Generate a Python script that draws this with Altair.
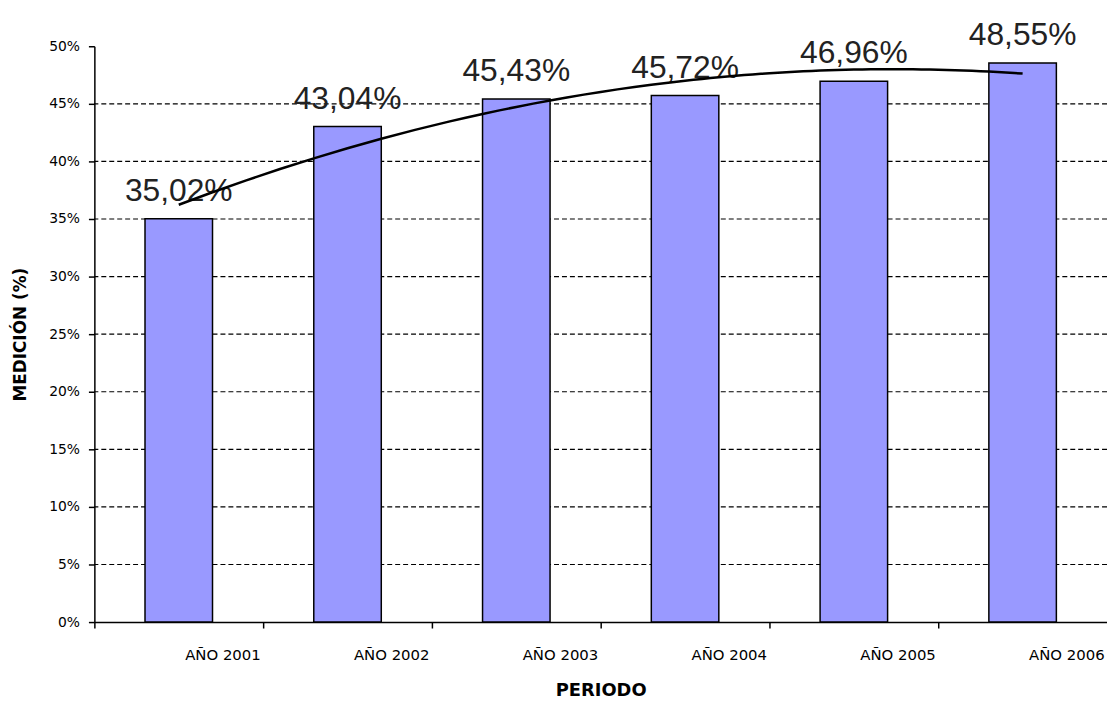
import altair as alt
import pandas as pd

categories = ["AÑO 2001", "AÑO 2002", "AÑO 2003", "AÑO 2004", "AÑO 2005", "AÑO 2006"]
values = [35.02, 43.04, 45.43, 45.72, 46.96, 48.55]
y_ticks = [0, 5, 10, 15, 20, 25, 30, 35, 40, 45, 50]
grid_lines = [5, 10, 15, 20, 25, 30, 35, 40, 45]

df = pd.DataFrame({"cat": categories, "val": values, "idx": list(range(len(categories)))})
grid_df = pd.DataFrame({"g": grid_lines})

base = alt.Chart(df)

x_band = alt.X(
    "cat:N",
    sort=categories,
    scale=alt.Scale(paddingInner=0.6, paddingOuter=0.3),
    title="PERIODO",
    axis=alt.Axis(
        labelAngle=0,
        labelFont="DejaVu Sans",
        labelFontSize=15,
        labelColor="#000",
        labelPadding=20,
        labelOffset=129,
        tickOffset=-85,
        bandPosition=0.5,
        tickSize=6,
        tickColor="#000",
        tickWidth=1.5,
        domainColor="#000",
        domainWidth=1.5,
        grid=False,
        titleFont="DejaVu Sans",
        titleFontSize=18,
        titleFontWeight="bold",
        titleColor="#000",
        titleY=60,
        titleBaseline="top",
    ),
)

y_axis = alt.Axis(
    values=y_ticks,
    labelExpr="datum.value + '%'",
    labelFont="DejaVu Sans",
    labelFontSize=14,
    labelColor="#000",
    labelPadding=9,
    tickSize=6,
    tickColor="#000",
    tickWidth=1.5,
    domainColor="#000",
    domainWidth=1.5,
    grid=False,
    titleFont="DejaVu Sans",
    titleFontSize=17,
    titleFontWeight="bold",
    titleColor="#000",
    titleAngle=-90,
    titleX=-74,
    titleY=290,
    titleAlign="center",
    titleBaseline="middle",
)

y_scale = alt.Scale(domain=[0, 50], nice=False)

grid = alt.Chart(grid_df).mark_rule(color="#000", strokeWidth=1.2, strokeDash=[5, 3]).encode(
    y=alt.Y("g:Q", scale=y_scale, axis=y_axis, title="MEDICIÓN (%)")
)

bars = base.mark_bar(color="#9999FF", stroke="#000", strokeWidth=1.5).encode(
    x=x_band, y=alt.Y("val:Q", scale=y_scale, axis=y_axis, title="MEDICIÓN (%)")
)

labels = base.transform_calculate(
    lbl="replace(format(datum.val, '.2f'), '.', ',') + '%'"
).mark_text(
    font="Liberation Sans", fontSize=32, dy=-18, baseline="alphabetic", color="#222"
).encode(x=x_band, y=alt.Y("val:Q", scale=y_scale, axis=y_axis, title="MEDICIÓN (%)"), text="lbl:N")

trend = base.transform_regression(
    "idx", "val", method="poly", order=2
).mark_line(color="#000", strokeWidth=2.5).encode(
    x=alt.X("idx:Q", scale=alt.Scale(domain=[-0.5, 5.5], nice=False, zero=False), axis=None),
    y=alt.Y("val:Q", scale=y_scale, axis=y_axis, title="MEDICIÓN (%)"),
)

inner = alt.layer(grid, bars, labels).properties(view=alt.ViewBackground(stroke="transparent", strokeWidth=0))

chart = alt.layer(inner, trend).resolve_scale(x="independent").properties(
    width=1020,
    height=580,
    padding={"left": 87, "top": 36, "right": 0, "bottom": 80},
    autosize=alt.AutoSizeParams(type="none"),
    background="white",
    view=alt.ViewBackground(stroke="transparent", strokeWidth=0),
).configure_view(strokeWidth=0, stroke="transparent").configure_axis(grid=False)

chart.save("out.html", embed_options={"renderer": "svg", "actions": False})
